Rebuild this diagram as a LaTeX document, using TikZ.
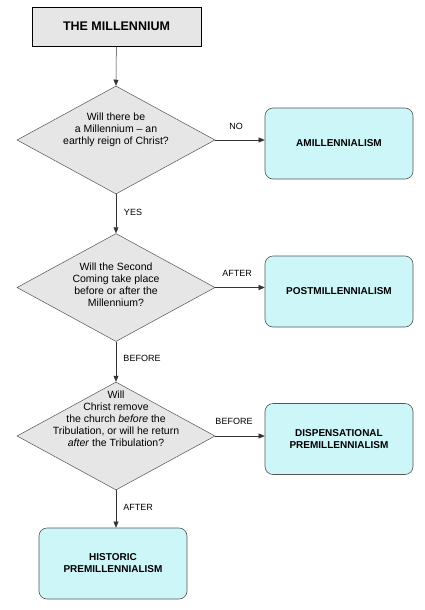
\documentclass[tikz,border=0pt]{standalone}
\usepackage{fontspec}
\setmainfont{Liberation Sans}
\usetikzlibrary{shapes.geometric,arrows.meta}
\definecolor{boxgray}{HTML}{E6E6E6}
\definecolor{cyanfill}{HTML}{CCF6F8}
\definecolor{edgegray}{HTML}{555555}
\begin{document}
\begin{tikzpicture}[x=1pt,y=-1pt,
  titlebox/.style={draw=black, fill=boxgray, line width=0.8pt, minimum width=169pt, minimum height=39pt, inner sep=0pt, font=\bfseries\fontsize{12.5}{15}\selectfont},
  dia/.style={draw=edgegray, fill=boxgray, diamond, minimum width=198pt, minimum height=108pt, inner sep=0pt, line width=0.5pt},
  diatext/.style={align=center, inner sep=0pt, font=\fontsize{10.5}{12}\selectfont},
  result/.style={draw=edgegray, fill=cyanfill, rounded corners=8pt, minimum width=148pt, minimum height=71pt, inner sep=0pt, align=center, line width=0.6pt, font=\bfseries\fontsize{10}{12}\selectfont},
  arr/.style={-{Triangle[length=6pt,width=5pt]}, draw=black!80, line width=0.5pt},
  lab/.style={inner sep=0pt, font=\fontsize{9}{11}\selectfont}]
\useasboundingbox (0,0) rectangle (424,610);
\fill[white] (0,0) rectangle (424,610);

\node[titlebox] (t) at (116.5,26.5) {THE MILLENNIUM};

\node[dia] (d1) at (116,140) {};
\node[diatext] (d1t) at (116,130) {Will there be\\a Millennium – an\\earthly reign of Christ?};
\node[result] (amill) at (339,143.5) {AMILLENNIALISM};

\node[dia] (d2) at (116,287.5) {};
\node[diatext] (d2t) at (116,285) {Will the Second\\Coming take place\\before or after the\\Millennium?};
\node[result] (post) at (339,291.5) {POSTMILLENNIALISM};

\node[dia] (d3) at (116,436) {};
\node[diatext] (d3t) at (116,418.5) {Will\\Christ remove\\the church \textit{before} the\\Tribulation, or will he return\\\textit{after} the Tribulation?};
\node[result] (disp) at (339,439) {DISPENSATIONAL\\PREMILLENNIALISM};

\node[result] (hist) at (113,563.5) {HISTORIC\\PREMILLENNIALISM};

\draw[arr] (t) -- (d1.north);
\draw[arr] (d1.east) -- (d1.east -| amill.west);
\draw[arr] (d1.south) -- (d2.north);
\draw[arr] (d2.east) -- (d2.east -| post.west);
\draw[arr] (d2.south) -- (d3.north);
\draw[arr] (d3.east) -- (d3.east -| disp.west);
\draw[arr] (d3.south) -- (d3.south |- hist.north);

\node[lab] (lno) at (236,126) {NO};
\node[lab] (lyes) at (133,212) {YES};
\node[lab] (laft1) at (237,273) {AFTER};
\node[lab] (lbef1) at (142,358) {BEFORE};
\node[lab] (lbef2) at (234,421) {BEFORE};
\node[lab] (laft2) at (138,507) {AFTER};
\end{tikzpicture}
\end{document}
